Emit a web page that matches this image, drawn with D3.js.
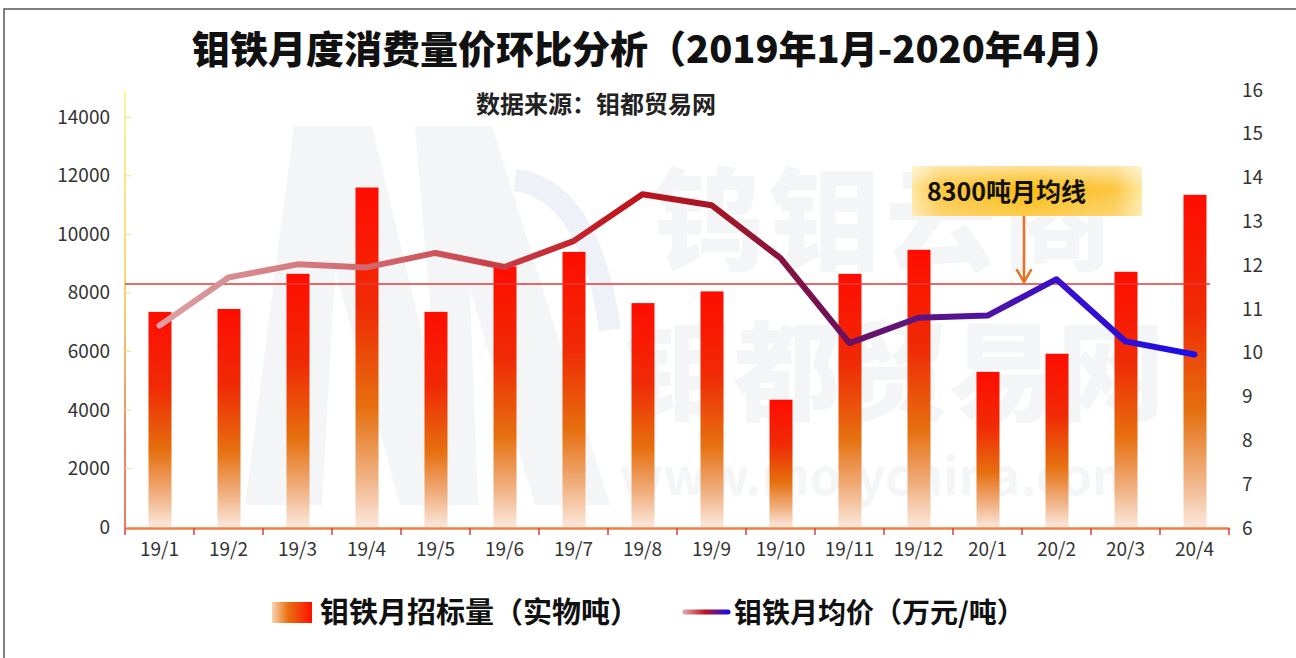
<!DOCTYPE html>
<html lang="zh">
<head>
<meta charset="utf-8">
<title>钼铁月度消费量价环比分析</title>
<script src="https://d3js.org/d3.v7.min.js"></script>
<style>
body { margin: 0; background: #fff; }
text { font-family: "Noto Sans CJK SC", "Noto Sans", sans-serif; }
</style>
</head>
<body>
<div id="chart"></div>
<script>
// data
var months = ["19/1","19/2","19/3","19/4","19/5","19/6","19/7","19/8","19/9","19/10","19/11","19/12","20/1","20/2","20/3","20/4"];
var volume = [7350, 7450, 8650, 11600, 7350, 8900, 9400, 7650, 8050, 4350, 8650, 9470, 5300, 5920, 8720, 11350];
var price = [10.62, 11.72, 12.02, 11.95, 12.28, 11.96, 12.55, 13.62, 13.37, 12.16, 10.22, 10.8, 10.85, 11.68, 10.26, 9.96];
var avgLine = 8300;
var leftTicks = [0, 2000, 4000, 6000, 8000, 10000, 12000, 14000];
var rightTicks = [6, 7, 8, 9, 10, 11, 12, 13, 14, 15, 16];

var W = 1296, H = 658;
var svg = d3.select("#chart").append("svg").attr("width", W).attr("height", H);
var defs = svg.append("defs");

// frame
svg.append("rect").attr("x", 4).attr("y", 9).attr("width", W + 10).attr("height", H + 10)
   .attr("fill", "none").attr("stroke", "#555").attr("stroke-width", 1.5);

var x = d3.scaleBand().domain(months).range([125, 1229]).paddingInner(0).paddingOuter(0);
var yL = d3.scaleLinear().domain([0, 15000]).range([527, 88]);
var yR = d3.scaleLinear().domain([6, 16]).range([528, 90]);

// gradients
var gBar = defs.append("linearGradient").attr("id", "gBar").attr("x1", 0).attr("y1", 0).attr("x2", 0).attr("y2", 1);
[[0, "#ff0d00"], [0.35, "#f02a05"], [0.65, "#e6700f"], [0.85, "#f0b080"], [1, "#fbe8dc"]].forEach(function(s) {
  gBar.append("stop").attr("offset", s[0]).attr("stop-color", s[1]);
});
var gLeg = defs.append("linearGradient").attr("id", "gLeg").attr("x1", 0).attr("y1", 0).attr("x2", 1).attr("y2", 0);
[[0, "#f8d2b0"], [0.4, "#ea7010"], [1, "#ff1000"]].forEach(function(s) {
  gLeg.append("stop").attr("offset", s[0]).attr("stop-color", s[1]);
});
var gLine = defs.append("linearGradient").attr("id", "gLine").attr("gradientUnits", "userSpaceOnUse")
  .attr("x1", x(months[0]) + x.bandwidth() / 2).attr("y1", 0)
  .attr("x2", x(months[15]) + x.bandwidth() / 2).attr("y2", 0);
[[0, "#dca0a4"], [0.25, "#cf5a60"], [0.45, "#c0141c"], [0.55, "#a01628"], [0.65, "#6e1058"],
 [0.75, "#5a1488"], [0.87, "#3a10cc"], [1, "#1a0ee8"]].forEach(function(s) {
  gLine.append("stop").attr("offset", s[0]).attr("stop-color", s[1]);
});
var gLineLeg = defs.append("linearGradient").attr("id", "gLineLeg").attr("gradientUnits", "userSpaceOnUse")
  .attr("x1", 685).attr("y1", 0).attr("x2", 728).attr("y2", 0);
[[0, "#dca0a4"], [0.45, "#c0141c"], [1, "#1a0ee8"]].forEach(function(s) {
  gLineLeg.append("stop").attr("offset", s[0]).attr("stop-color", s[1]);
});
var gAxis = defs.append("linearGradient").attr("id", "gAxis").attr("gradientUnits", "userSpaceOnUse")
  .attr("x1", 0).attr("y1", 90).attr("x2", 0).attr("y2", 528);
[[0, "#fff27a"], [0.5, "#f0c040"], [0.8, "#e8603a"], [1, "#e04a30"]].forEach(function(s) {
  gAxis.append("stop").attr("offset", s[0]).attr("stop-color", s[1]);
});
var gBox = defs.append("linearGradient").attr("id", "gBox").attr("x1", 0).attr("y1", 0).attr("x2", 1).attr("y2", 0);
[[0, "#fde7a0"], [0.12, "#fcc640"], [0.5, "#fbbb10"], [0.88, "#fcc640"], [1, "#fde7a0"]].forEach(function(s) {
  gBox.append("stop").attr("offset", s[0]).attr("stop-color", s[1]);
});
var gBoxV = defs.append("linearGradient").attr("id", "gBoxV").attr("x1", 0).attr("y1", 0).attr("x2", 0).attr("y2", 1);
[[0, "#fff", 0.55], [0.45, "#fff", 0], [1, "#fff", 0.25]].forEach(function(s) {
  gBoxV.append("stop").attr("offset", s[0]).attr("stop-color", s[1]).attr("stop-opacity", s[2]);
});

// watermark (logo + site name)
var wm = svg.append("g").attr("fill", "#f4f5f7");
wm.append("path").attr("d", "M245,505 L294,126 L372,126 L438,400 L415,126 L492,126 L610,505 L535,505 L470,290 L478,505 L400,505 L335,270 L322,505 Z");
wm.append("path").attr("d", "M515,180 Q590,190 610,330").attr("fill", "none")
  .attr("stroke", "#eef2f8").attr("stroke-width", 22);
wm.append("text").attr("x", 885).attr("y", 262).attr("text-anchor", "middle")
  .attr("font-size", 112).attr("font-weight", 900).attr("letter-spacing", 4).text("钨钼云商");
wm.append("text").attr("x", 895).attr("y", 412).attr("text-anchor", "middle")
  .attr("font-size", 108).attr("font-weight", 900).text("钼都贸易网");
wm.append("text").attr("x", 880).attr("y", 495).attr("text-anchor", "middle")
  .attr("font-size", 50).attr("font-weight", 700).text("www.molychina.com");

// title
svg.append("text").attr("x", 657).attr("y", 63).attr("text-anchor", "middle")
  .attr("font-size", 38).attr("font-weight", 900).attr("fill", "#111")
  .text("钼铁月度消费量价环比分析（2019年1月-2020年4月）");
svg.append("text").attr("x", 596).attr("y", 113).attr("text-anchor", "middle")
  .attr("font-size", 24).attr("font-weight", 700).attr("fill", "#222")
  .text("数据来源：钼都贸易网");

// left axis
svg.append("line").attr("x1", 125).attr("x2", 125).attr("y1", 90).attr("y2", 528)
  .attr("stroke", "url(#gAxis)").attr("stroke-width", 1.5);
var gl = svg.append("g").attr("transform", "translate(125,0)")
  .call(d3.axisLeft(yL).tickValues(leftTicks).tickSize(0).tickPadding(15).tickFormat(d3.format("d")));
gl.select(".domain").remove();
gl.selectAll("text").attr("font-size", 19).attr("fill", "#333").attr("font-family", "Liberation Sans, sans-serif");
svg.append("g").selectAll("line").data(leftTicks.slice(1)).join("line")
  .attr("x1", 125).attr("x2", 131).attr("y1", yL).attr("y2", yL)
  .attr("stroke", "#f4e27a").attr("stroke-width", 1);

// right axis (labels only)
var gr = svg.append("g").attr("transform", "translate(1229,0)")
  .call(d3.axisRight(yR).tickValues(rightTicks).tickSize(0).tickPadding(13));
gr.select(".domain").remove();
gr.selectAll("text").attr("font-size", 19).attr("fill", "#333").attr("font-family", "Liberation Sans, sans-serif");

// bars
var bw = 23;
svg.append("g").selectAll("rect").data(volume).join("rect")
  .attr("x", function(d, i) { return x(months[i]) + x.bandwidth() / 2 - bw / 2 + 0.5; })
  .attr("y", function(d) { return yL(d); })
  .attr("width", bw)
  .attr("height", function(d) { return yL(0) - yL(d); })
  .attr("fill", "url(#gBar)");

// x axis
var gx = svg.append("g").attr("transform", "translate(0,528)")
  .call(d3.axisBottom(x).tickSize(0).tickPadding(15));
gx.select(".domain").attr("stroke", "#f08040").attr("stroke-width", 2.5);
gx.selectAll("text").attr("font-size", 19).attr("fill", "#333").attr("font-family", "Liberation Sans, sans-serif");
var bounds = months.map(function(m) { return x(m); }).concat([x(months[15]) + x.bandwidth()]);
svg.append("g").selectAll("line").data(bounds).join("line")
  .attr("x1", function(d) { return d; }).attr("x2", function(d) { return d; })
  .attr("y1", 528).attr("y2", 535).attr("stroke", "#d84040").attr("stroke-width", 1.5);

// 8300 line
svg.append("line").attr("x1", 125).attr("x2", 1210).attr("y1", yL(avgLine)).attr("y2", yL(avgLine))
  .attr("stroke", "#e23838").attr("stroke-width", 1.5);

// price line
var line = d3.line()
  .x(function(d, i) { return x(months[i]) + x.bandwidth() / 2; })
  .y(function(d) { return yR(d); });
svg.append("path").datum(price).attr("d", line)
  .attr("fill", "none").attr("stroke", "url(#gLine)").attr("stroke-width", 6)
  .attr("stroke-linejoin", "round").attr("stroke-linecap", "round");

// annotation
svg.append("rect").attr("x", 912).attr("y", 166).attr("width", 230).attr("height", 50).attr("fill", "url(#gBox)");
svg.append("rect").attr("x", 912).attr("y", 166).attr("width", 230).attr("height", 50).attr("fill", "url(#gBoxV)");
svg.append("text").attr("x", 927).attr("y", 201).attr("font-size", 25).attr("font-weight", 700).attr("fill", "#111")
  .text("8300吨月均线");
var ax = 1024;
svg.append("line").attr("x1", ax).attr("x2", ax).attr("y1", 216).attr("y2", yL(avgLine) - 3)
  .attr("stroke", "#e87020").attr("stroke-width", 2.5);
svg.append("path").attr("d", "M" + (ax - 7) + "," + (yL(avgLine) - 14) + " L" + ax + "," + (yL(avgLine) - 2) + " L" + (ax + 7) + "," + (yL(avgLine) - 14))
  .attr("fill", "none").attr("stroke", "#e87020").attr("stroke-width", 2.5).attr("stroke-linecap", "round");

// legend
svg.append("rect").attr("x", 272).attr("y", 602).attr("width", 40).attr("height", 21).attr("fill", "url(#gLeg)");
svg.append("text").attr("x", 320).attr("y", 623).attr("font-size", 29).attr("font-weight", 700).attr("fill", "#111")
  .text("钼铁月招标量（实物吨）");
svg.append("line").attr("x1", 685).attr("x2", 728).attr("y1", 612).attr("y2", 612)
  .attr("stroke", "url(#gLineLeg)").attr("stroke-width", 5).attr("stroke-linecap", "round");
svg.append("text").attr("x", 734).attr("y", 623).attr("font-size", 28).attr("font-weight", 700).attr("fill", "#111")
  .text("钼铁月均价（万元/吨）");
</script>
</body>
</html>
